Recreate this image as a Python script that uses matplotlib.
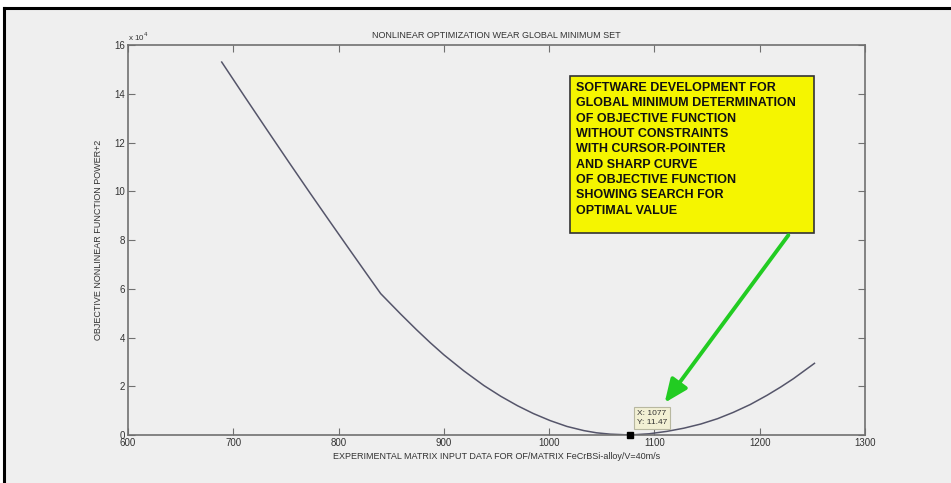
import numpy as np
import matplotlib
matplotlib.use('Agg')
import matplotlib.pyplot as plt
from matplotlib.patches import Rectangle, FancyArrowPatch

# objective function samples along the input range
x_vals = [689, 711, 732, 753, 773, 792, 811, 827, 840, 859, 874, 887, 900,
          919, 938, 954, 970, 985, 1001, 1017, 1033, 1045, 1058, 1077, 1095,
          1112, 1128, 1144, 1160, 1175, 1191, 1207, 1220, 1232, 1252]
y_vals = [153000, 138700, 125200, 111800, 99200, 87400, 75700, 65900, 58000,
          49600, 43200, 37900, 32900, 26300, 20300, 15900, 12000, 8800, 5900,
          3500, 1800, 900, 350, 11.47, 500, 1500, 2800, 4500, 6700, 9300,
          12500, 16300, 19700, 23100, 29400]

# global minimum picked with the data cursor
min_x = 1077
min_y = 11.47

box_text = ("SOFTWARE DEVELOPMENT FOR\n"
            "GLOBAL MINIMUM DETERMINATION\n"
            "OF OBJECTIVE FUNCTION\n"
            "WITHOUT CONSTRAINTS\n"
            "WITH CURSOR-POINTER\n"
            "AND SHARP CURVE\n"
            "OF OBJECTIVE FUNCTION\n"
            "SHOWING SEARCH FOR\n"
            "OPTIMAL VALUE")

plt.rcParams['font.family'] = ['Liberation Sans', 'DejaVu Sans']
bg = '#efefef'
axc = '#707070'
W, H = 951, 483

fig = plt.figure(figsize=(W / 100, H / 100), dpi=100, facecolor=bg)
# white margin with a black edge on top and left
fig.add_artist(Rectangle((0, 1 - 8 / H), 1, 8 / H, transform=fig.transFigure,
                         facecolor='white', edgecolor='none', zorder=-2))
fig.add_artist(Rectangle((0, 0), 4 / W, 1, transform=fig.transFigure,
                         facecolor='white', edgecolor='none', zorder=-2))
fig.add_artist(plt.Line2D([4 / W, 1], [1 - 8 / H, 1 - 8 / H],
                          transform=fig.transFigure, color='black', lw=2.2))
fig.add_artist(plt.Line2D([4 / W, 4 / W], [0, 1 - 8 / H],
                          transform=fig.transFigure, color='black', lw=2.2))

ax = fig.add_axes([128 / W, 1 - 435 / H, (865 - 128) / W, (435 - 45) / H])
ax.set_facecolor(bg)
ax.plot(x_vals, y_vals, color='#55556a', linewidth=1.1)
ax.plot([min_x], [min_y], marker='s', color='black', markersize=4.5,
        linestyle='none', zorder=5, clip_on=False)

ax.set_xlim(600, 1300)
ax.set_ylim(0, 160000)
ax.set_xticks(np.arange(600, 1301, 100))
ax.set_yticks(np.arange(0, 160001, 20000))
ax.set_yticklabels([str(v) for v in range(0, 17, 2)])
ax.tick_params(direction='in', length=5, top=True, right=True, color=axc,
               labelsize=7, labelcolor='#333333', pad=2)
for s in ax.spines.values():
    s.set_color(axc)
    s.set_linewidth(1.2)
ax.text(0, 1.005, r'x 10$^4$', transform=ax.transAxes, fontsize=5.8,
        color='#333333', va='bottom', ha='left')

ax.set_title('NONLINEAR OPTIMIZATION WEAR GLOBAL MINIMUM SET', fontsize=6.5,
             color='#333333', pad=5)
ax.set_xlabel('EXPERIMENTAL MATRIX INPUT DATA FOR OF/MATRIX FeCrBSi-alloy/V=40m/s',
              fontsize=6.5, color='#333333', labelpad=3)
ax.set_ylabel('OBJECTIVE NONLINEAR FUNCTION POWER+2', fontsize=6.5,
              color='#333333', labelpad=8)

# data tip
fig.text(637 / W, 1 - 418 / H, f'X: {min_x}\nY: {min_y}', fontsize=6,
         color='#333333', va='center', ha='left', linespacing=1.5, zorder=6,
         bbox=dict(boxstyle='square,pad=0.35', facecolor='#f2f0d4',
                   edgecolor='#b8b8a0', linewidth=0.8))

# yellow note box
fig.add_artist(Rectangle((570 / W, 1 - 233 / H), (814 - 570) / W,
                         (233 - 76) / H, transform=fig.transFigure,
                         facecolor='#f5f500', edgecolor='#333333',
                         linewidth=1.2, zorder=3))
fig.text(576 / W, 1 - 82 / H, box_text, fontsize=9, fontweight='bold',
         color='#111111', va='top', ha='left', linespacing=1.37, zorder=6)

# green pointer from the note to the minimum
fig.add_artist(FancyArrowPatch(
    (790 / W, 1 - 233 / H), (663 / W, 1 - 405 / H),
    transform=fig.transFigure,
    arrowstyle='-|>,head_length=14,head_width=6', mutation_scale=1,
    color='#22cc22', linewidth=2.8, zorder=6))

fig.savefig('out.png', dpi=100, facecolor=fig.get_facecolor())
